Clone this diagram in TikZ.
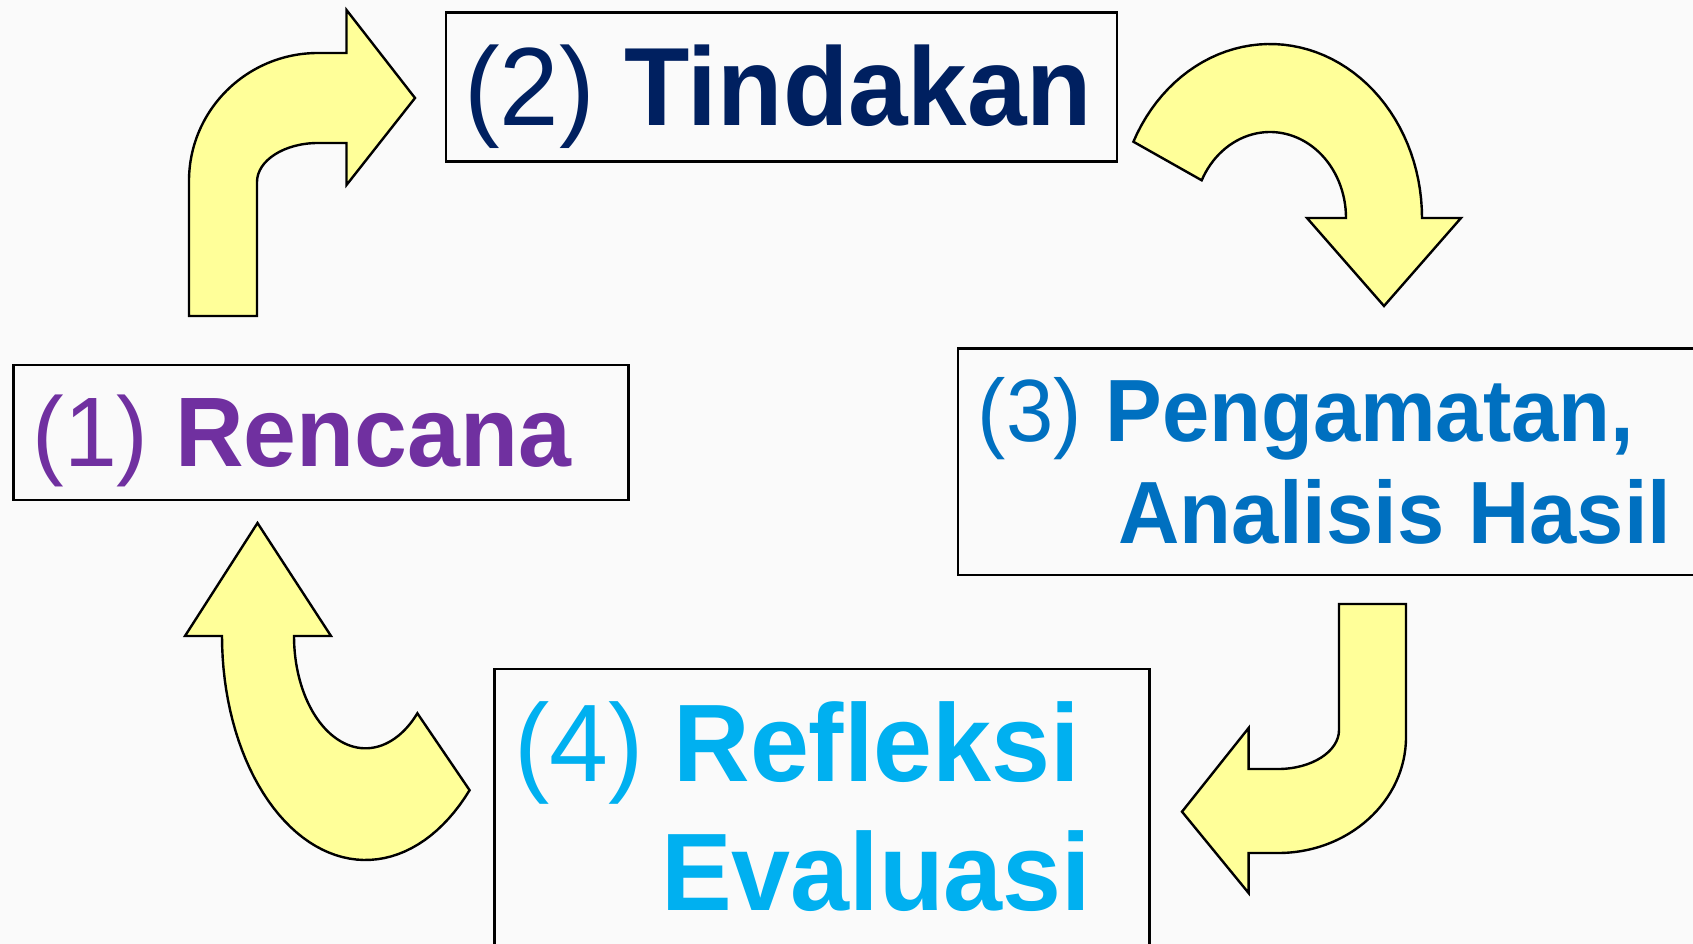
\documentclass[tikz,border=0pt]{standalone}
\usepackage{fontspec}
\setmainfont{Liberation Sans}
\definecolor{pagebg}{RGB}{250,250,250}
\definecolor{arrowfill}{RGB}{255,255,153}
\definecolor{navytext}{RGB}{0,32,96}
\definecolor{purpletext}{RGB}{112,48,160}
\definecolor{bluetext}{RGB}{0,112,192}
\definecolor{cyantext}{RGB}{0,176,240}
% labels are set a little taller than the font's natural shape
\newcommand{\tallish}[1]{\scalebox{1}[1.04]{#1}}
\begin{document}
\begin{tikzpicture}[x=1pt,y=-1pt,
  stagebox/.style={draw=black, line width=2.8pt, inner sep=0pt, outer sep=0pt},
  blockarrow/.style={fill=arrowfill, draw=black, line width=2.4pt, line join=miter},
  stagetext/.style={anchor=base west, inner sep=0pt, outer sep=0pt}]
\fill[pagebg] (0,0) rectangle (1693,944);
\useasboundingbox (0,0) rectangle (1693,944);
\begin{scope}
\clip (0,0) rectangle (1693,944);

% frames of the four stages
\node[stagebox, minimum width=671pt, minimum height=149pt] (box2) at (781.5,87.2) {};
\node[stagebox, minimum width=615pt, minimum height=135pt] (box1) at (321,432.5) {};
\node[stagebox, minimum width=802pt, minimum height=226.7pt] (box3) at (1359,461.7) {};
\node[stagebox, minimum width=655.7pt, minimum height=331pt] (box4) at (822,834.5) {};

% stage labels
\node[stagetext, text=navytext, font=\fontsize{107}{107}\selectfont] (lab2) at (464,126) {\tallish{(2) \textbf{Tindakan}}};
\node[stagetext, text=purpletext, font=\fontsize{95}{95}\selectfont] (lab1) at (32.5,466.7) {\tallish{(1) \textbf{Rencana}}};
\node[stagetext, text=bluetext, font=\fontsize{85}{85}\selectfont] (lab3a) at (977.8,441) {\tallish{(3) \textbf{Pengamatan,}}};
\node[stagetext, text=bluetext, font=\fontsize{85}{85}\selectfont\bfseries] (lab3b) at (1118.6,543.3) {\tallish{Analisis Hasil}};
\node[stagetext, text=cyantext, font=\fontsize{106}{106}\selectfont] (lab4a) at (514.5,781.7) {\tallish{(4) \textbf{Refleksi}}};
\node[stagetext, text=cyantext, font=\fontsize{106}{106}\selectfont\bfseries] (lab4b) at (661,910) {\tallish{Evaluasi}};

% bent arrow: Rencana -> Tindakan
\draw[blockarrow] (189,316) -- (189,181)
  .. controls (189,110.3) and (246.8,53) .. (318,53)
  -- (346.5,53) -- (346.5,10) -- (415,98) -- (346.5,185) -- (346.5,143) -- (318,143)
  .. controls (284.3,143) and (257,160.5) .. (257,182)
  -- (257,316) -- cycle;

% curved arrow: Tindakan -> Pengamatan
\draw[blockarrow]
  plot[domain=154:0, samples=50, variable=\t] ({1270+152*cos(\t)},{218-174*sin(\t)})
  -- (1461,218) -- (1384,306) -- (1307,218)
  -- plot[domain=0:154, samples=50, variable=\t] ({1270+76*cos(\t)},{218-86*sin(\t)})
  -- cycle;

% bent arrow: Pengamatan -> Refleksi
\draw[blockarrow] (1339,604) -- (1406,604) -- (1406,737)
  .. controls (1406,801) and (1348.7,853) .. (1278,853)
  -- (1248.6,853) -- (1248.6,893) -- (1182,811.7) -- (1248.6,728) -- (1248.6,769) -- (1278,769)
  .. controls (1311.7,769) and (1339,751.5) .. (1339,730)
  -- cycle;

% curved arrow: Refleksi -> Rencana
\draw[blockarrow] (257.5,523) -- (331,636)
  -- plot[domain=180:316.5, samples=50, variable=\t] ({365.5+71.5*cos(\t)},{636-112.3*sin(\t)})
  -- plot[domain=316.5:180, samples=50, variable=\t] ({365.5+143.5*cos(\t)},{636-224*sin(\t)})
  -- (185,636) -- cycle;
\end{scope}
\end{tikzpicture}
\end{document}
